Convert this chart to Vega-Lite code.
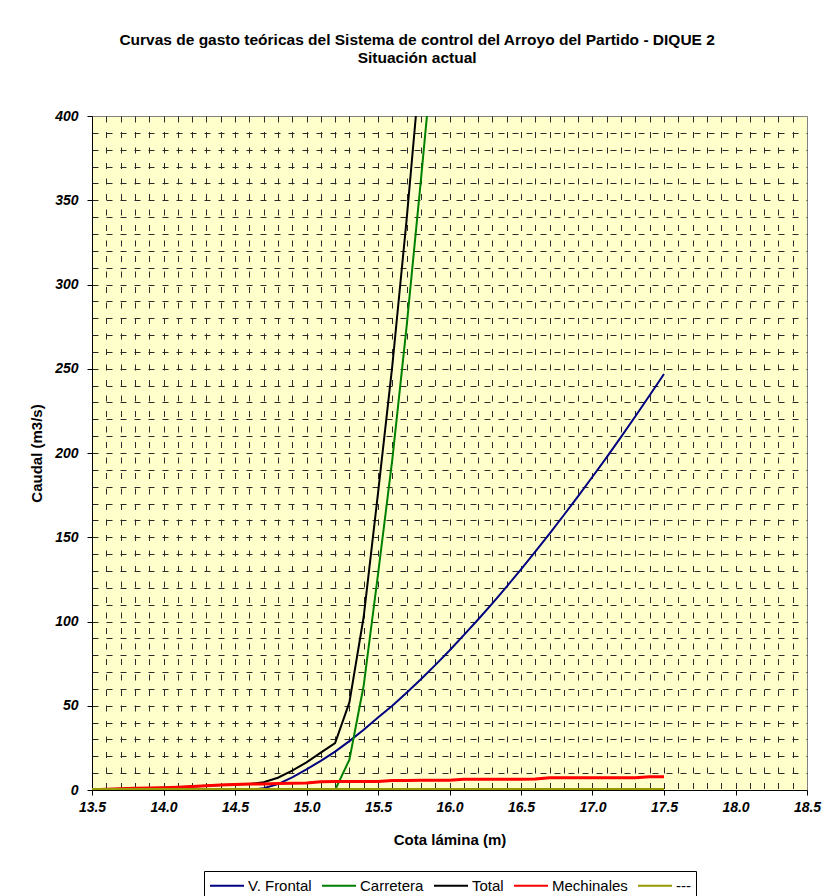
{
  "$schema": "https://vega.github.io/schema/vega-lite/v6.json",
  "autosize": {"type": "none"},
  "width": 715,
  "height": 674,
  "padding": {"left": 92, "top": 116, "right": 20, "bottom": 106},
  "background": "white",
  "title": {
    "text": ["Curvas de gasto teóricas del Sistema de control del Arroyo del Partido - DIQUE 2", "Situación actual"],
    "anchor": "middle",
    "frame": "bounds",
    "font": "Liberation Sans",
    "fontSize": 15.5,
    "fontWeight": "bold",
    "color": "black",
    "lineHeight": 18,
    "offset": 43,
    "dx": -8
  },
  "config": {
    "view": {"fill": "#FFFFCC", "stroke": "#808080", "strokeWidth": 1},
    "legend": {
      "orient": "bottom",
      "direction": "horizontal",
      "layout": {"bottom": {"anchor": "middle"}},
      "title": null,
      "strokeColor": "black",
      "strokeWidth": 1,
      "padding": 5,
      "offset": 24,
      "symbolType": "M-1,0H3",
      "symbolSize": 289,
      "symbolStrokeWidth": 2,
      "labelFont": "Liberation Sans",
      "labelFontSize": 15,
      "labelColor": "black",
      "labelOffset": 20,
      "columnPadding": 6
    }
  },
  "data": {
    "values": [
      {"cota": 14.6, "q": 0, "serie": "V. Frontal"},
      {"cota": 14.7, "q": 1.0, "serie": "V. Frontal"},
      {"cota": 14.8, "q": 3.5, "serie": "V. Frontal"},
      {"cota": 14.9, "q": 7.5, "serie": "V. Frontal"},
      {"cota": 15.0, "q": 12.3, "serie": "V. Frontal"},
      {"cota": 15.1, "q": 17.3, "serie": "V. Frontal"},
      {"cota": 15.2, "q": 22.8, "serie": "V. Frontal"},
      {"cota": 15.3, "q": 29.0, "serie": "V. Frontal"},
      {"cota": 15.4, "q": 35.8, "serie": "V. Frontal"},
      {"cota": 15.5, "q": 43.0, "serie": "V. Frontal"},
      {"cota": 15.6, "q": 50.0, "serie": "V. Frontal"},
      {"cota": 15.7, "q": 57.7, "serie": "V. Frontal"},
      {"cota": 15.8, "q": 65.7, "serie": "V. Frontal"},
      {"cota": 15.9, "q": 74.1, "serie": "V. Frontal"},
      {"cota": 16.0, "q": 82.8, "serie": "V. Frontal"},
      {"cota": 16.1, "q": 91.9, "serie": "V. Frontal"},
      {"cota": 16.2, "q": 101.2, "serie": "V. Frontal"},
      {"cota": 16.3, "q": 110.8, "serie": "V. Frontal"},
      {"cota": 16.4, "q": 120.7, "serie": "V. Frontal"},
      {"cota": 16.5, "q": 131.0, "serie": "V. Frontal"},
      {"cota": 16.6, "q": 141.4, "serie": "V. Frontal"},
      {"cota": 16.7, "q": 152.2, "serie": "V. Frontal"},
      {"cota": 16.8, "q": 163.2, "serie": "V. Frontal"},
      {"cota": 16.9, "q": 174.4, "serie": "V. Frontal"},
      {"cota": 17.0, "q": 185.9, "serie": "V. Frontal"},
      {"cota": 17.1, "q": 197.6, "serie": "V. Frontal"},
      {"cota": 17.2, "q": 209.6, "serie": "V. Frontal"},
      {"cota": 17.3, "q": 221.8, "serie": "V. Frontal"},
      {"cota": 17.4, "q": 234.3, "serie": "V. Frontal"},
      {"cota": 17.5, "q": 246.9, "serie": "V. Frontal"},
      {"cota": 15.2, "q": 0, "serie": "Carretera"},
      {"cota": 15.3, "q": 18, "serie": "Carretera"},
      {"cota": 15.4, "q": 62, "serie": "Carretera"},
      {"cota": 15.5, "q": 128, "serie": "Carretera"},
      {"cota": 15.6, "q": 196, "serie": "Carretera"},
      {"cota": 15.7, "q": 275, "serie": "Carretera"},
      {"cota": 15.8, "q": 362, "serie": "Carretera"},
      {"cota": 15.9, "q": 452, "serie": "Carretera"},
      {"cota": 13.5, "q": 0.2, "serie": "Total"},
      {"cota": 13.6, "q": 0.5, "serie": "Total"},
      {"cota": 13.7, "q": 0.8, "serie": "Total"},
      {"cota": 13.8, "q": 1.0, "serie": "Total"},
      {"cota": 13.9, "q": 1.2, "serie": "Total"},
      {"cota": 14.0, "q": 1.4, "serie": "Total"},
      {"cota": 14.1, "q": 1.7, "serie": "Total"},
      {"cota": 14.2, "q": 2.1, "serie": "Total"},
      {"cota": 14.3, "q": 2.5, "serie": "Total"},
      {"cota": 14.4, "q": 2.9, "serie": "Total"},
      {"cota": 14.5, "q": 3.3, "serie": "Total"},
      {"cota": 14.6, "q": 3.5, "serie": "Total"},
      {"cota": 14.7, "q": 4.6, "serie": "Total"},
      {"cota": 14.8, "q": 7.3, "serie": "Total"},
      {"cota": 14.9, "q": 11.5, "serie": "Total"},
      {"cota": 15.0, "q": 16.4, "serie": "Total"},
      {"cota": 15.1, "q": 22.2, "serie": "Total"},
      {"cota": 15.2, "q": 27.8, "serie": "Total"},
      {"cota": 15.3, "q": 52.0, "serie": "Total"},
      {"cota": 15.4, "q": 102.8, "serie": "Total"},
      {"cota": 15.5, "q": 176.1, "serie": "Total"},
      {"cota": 15.6, "q": 251.7, "serie": "Total"},
      {"cota": 15.7, "q": 338.4, "serie": "Total"},
      {"cota": 15.8, "q": 433.5, "serie": "Total"},
      {"cota": 15.9, "q": 531.9, "serie": "Total"},
      {"cota": 13.5, "q": 0.2, "serie": "Mechinales"},
      {"cota": 13.6, "q": 0.5, "serie": "Mechinales"},
      {"cota": 13.7, "q": 0.8, "serie": "Mechinales"},
      {"cota": 13.8, "q": 1.0, "serie": "Mechinales"},
      {"cota": 13.9, "q": 1.2, "serie": "Mechinales"},
      {"cota": 14.0, "q": 1.4, "serie": "Mechinales"},
      {"cota": 14.1, "q": 1.7, "serie": "Mechinales"},
      {"cota": 14.2, "q": 2.1, "serie": "Mechinales"},
      {"cota": 14.3, "q": 2.5, "serie": "Mechinales"},
      {"cota": 14.4, "q": 2.9, "serie": "Mechinales"},
      {"cota": 14.5, "q": 3.3, "serie": "Mechinales"},
      {"cota": 14.6, "q": 3.5, "serie": "Mechinales"},
      {"cota": 14.7, "q": 3.6, "serie": "Mechinales"},
      {"cota": 14.8, "q": 3.8, "serie": "Mechinales"},
      {"cota": 14.9, "q": 4.0, "serie": "Mechinales"},
      {"cota": 15.0, "q": 4.1, "serie": "Mechinales"},
      {"cota": 15.1, "q": 4.9, "serie": "Mechinales"},
      {"cota": 15.2, "q": 5.0, "serie": "Mechinales"},
      {"cota": 15.3, "q": 5.0, "serie": "Mechinales"},
      {"cota": 15.4, "q": 5.0, "serie": "Mechinales"},
      {"cota": 15.5, "q": 5.1, "serie": "Mechinales"},
      {"cota": 15.6, "q": 5.7, "serie": "Mechinales"},
      {"cota": 15.7, "q": 5.7, "serie": "Mechinales"},
      {"cota": 15.8, "q": 5.8, "serie": "Mechinales"},
      {"cota": 15.9, "q": 5.8, "serie": "Mechinales"},
      {"cota": 16.0, "q": 5.8, "serie": "Mechinales"},
      {"cota": 16.1, "q": 6.4, "serie": "Mechinales"},
      {"cota": 16.2, "q": 6.4, "serie": "Mechinales"},
      {"cota": 16.3, "q": 6.4, "serie": "Mechinales"},
      {"cota": 16.4, "q": 6.4, "serie": "Mechinales"},
      {"cota": 16.5, "q": 6.4, "serie": "Mechinales"},
      {"cota": 16.6, "q": 6.5, "serie": "Mechinales"},
      {"cota": 16.7, "q": 7.2, "serie": "Mechinales"},
      {"cota": 16.8, "q": 7.2, "serie": "Mechinales"},
      {"cota": 16.9, "q": 7.2, "serie": "Mechinales"},
      {"cota": 17.0, "q": 7.2, "serie": "Mechinales"},
      {"cota": 17.1, "q": 7.2, "serie": "Mechinales"},
      {"cota": 17.2, "q": 7.2, "serie": "Mechinales"},
      {"cota": 17.3, "q": 7.3, "serie": "Mechinales"},
      {"cota": 17.4, "q": 7.9, "serie": "Mechinales"},
      {"cota": 17.5, "q": 7.9, "serie": "Mechinales"},
      {"cota": 13.5, "q": 0, "serie": "---"},
      {"cota": 17.5, "q": 0, "serie": "---"}
    ]
  },
  "encoding": {
    "x": {
      "field": "cota",
      "type": "quantitative",
      "scale": {"domain": [13.5, 18.5], "nice": false, "zero": false},
      "axis": {
        "title": "Cota lámina (m)",
        "titleFont": "Liberation Sans",
        "titleFontSize": 15,
        "titleFontWeight": "bold",
        "titleColor": "black",
        "titlePadding": 18,
        "tickCount": 50,
        "labelExpr": "abs(datum.value * 2 - round(datum.value * 2)) < 0.001 ? format(datum.value, '.1f') : ''",
        "labelFont": "Liberation Sans",
        "labelFontSize": 14,
        "labelFontWeight": "bold",
        "labelFontStyle": "italic",
        "labelColor": "black",
        "labelPadding": 5,
        "labelOverlap": false,
        "labelFlush": false,
        "domainColor": "black",
        "tickColor": "black",
        "tickSize": 5,
        "tickOpacity": {"condition": {"test": "abs(datum.value * 2 - round(datum.value * 2)) < 0.001", "value": 1}, "value": 0},
        "grid": true,
        "gridColor": "#2a2a2a",
        "gridDash": [6, 9.5],
        "gridOpacity": {"condition": {"test": "datum.value < 13.55 || datum.value > 18.45", "value": 0}, "value": 1}
      }
    },
    "y": {
      "field": "q",
      "type": "quantitative",
      "scale": {"domain": [0, 400], "nice": false},
      "axis": {
        "title": "Caudal (m3/s)",
        "titleFont": "Liberation Sans",
        "titleFontSize": 15,
        "titleFontWeight": "bold",
        "titleColor": "black",
        "titlePadding": 10,
        "tickCount": 40,
        "labelExpr": "datum.value % 50 === 0 ? format(datum.value, 'd') : ''",
        "labelFont": "Liberation Sans",
        "labelFontSize": 14,
        "labelFontWeight": "bold",
        "labelFontStyle": "italic",
        "labelColor": "black",
        "labelPadding": 9,
        "labelOverlap": false,
        "labelFlush": false,
        "domainColor": "black",
        "tickColor": "black",
        "tickSize": 5,
        "tickOpacity": {"condition": {"test": "datum.value % 50 === 0", "value": 1}, "value": 0},
        "grid": true,
        "gridColor": "#2a2a2a",
        "gridDash": [6, 8],
        "gridOpacity": {"condition": {"test": "datum.value <= 0 || datum.value >= 400", "value": 0}, "value": 1}
      }
    },
    "color": {
      "field": "serie",
      "type": "nominal",
      "sort": ["V. Frontal", "Carretera", "Total", "Mechinales", "---"],
      "scale": {
        "domain": ["V. Frontal", "Carretera", "Total", "Mechinales", "---"],
        "range": ["#000080", "#008000", "#000000", "#FF0000", "#999900"]
      }
    }
  },
  "layer": [
    {
      "transform": [{"filter": "datum.serie === 'V. Frontal' || datum.serie === 'Carretera' || datum.serie === 'Total'"}],
      "mark": {"type": "line", "clip": true, "strokeWidth": 2}
    },
    {
      "transform": [{"filter": "datum.serie === 'Mechinales'"}],
      "mark": {"type": "line", "clip": true, "strokeWidth": 3}
    },
    {
      "transform": [{"filter": "datum.serie === '---'"}],
      "mark": {"type": "line", "clip": true, "strokeWidth": 4}
    }
  ]
}
